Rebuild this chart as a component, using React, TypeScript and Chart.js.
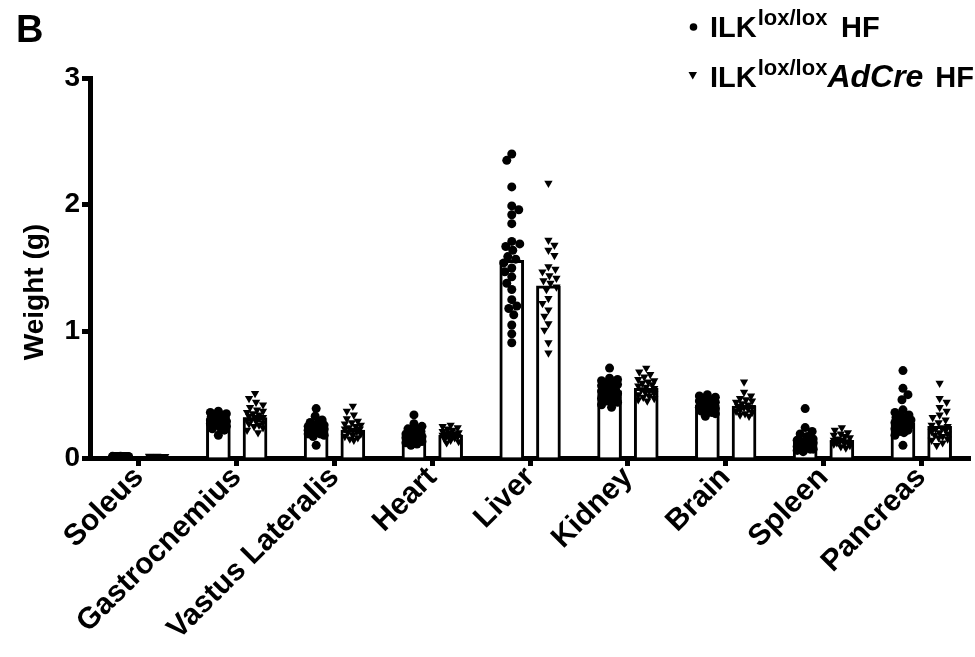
import React, { useEffect, useRef } from "react";
import { Chart, registerables } from "chart.js";

Chart.register(...registerables);

// Tissue categories on the x axis
const organs = [
  "Soleus",
  "Gastrocnemius",
  "Vastus Lateralis",
  "Heart",
  "Liver",
  "Kidney",
  "Brain",
  "Spleen",
  "Pancreas",
];

const yTicks = [0, 1, 2, 3];

// Group means (bar heights), grams
const meanHF = [0.01, 0.3, 0.23, 0.18, 1.56, 0.53, 0.42, 0.13, 0.28];
const meanCre = [0.012, 0.32, 0.22, 0.18, 1.36, 0.55, 0.41, 0.14, 0.25];

// Individual animals, ILK lox/lox HF
const soleusHF = [0.012, 0.01, 0.011, 0.009, 0.008, 0.013, 0.01, 0.011, 0.009, 0.012, 0.01, 0.008, 0.011, 0.009, 0.01, 0.012, 0.011, 0.01, 0.009, 0.013, 0.01, 0.011];
const gastrocHF = [0.37, 0.36, 0.35, 0.34, 0.34, 0.33, 0.33, 0.32, 0.32, 0.31, 0.31, 0.3, 0.3, 0.29, 0.29, 0.28, 0.28, 0.27, 0.27, 0.26, 0.25, 0.24, 0.23, 0.22, 0.18];
const vastusHF = [0.39, 0.33, 0.3, 0.28, 0.27, 0.26, 0.25, 0.25, 0.24, 0.24, 0.23, 0.23, 0.22, 0.22, 0.21, 0.21, 0.2, 0.2, 0.19, 0.19, 0.18, 0.17, 0.1];
const heartHF = [0.34, 0.27, 0.25, 0.23, 0.22, 0.21, 0.2, 0.19, 0.19, 0.18, 0.18, 0.17, 0.17, 0.16, 0.16, 0.15, 0.15, 0.14, 0.13, 0.12, 0.11, 0.1];
const liverHF = [2.4, 2.35, 2.14, 1.99, 1.96, 1.92, 1.85, 1.71, 1.69, 1.67, 1.64, 1.59, 1.57, 1.54, 1.5, 1.47, 1.43, 1.38, 1.33, 1.25, 1.2, 1.18, 1.13, 1.05, 0.98, 0.91];
const kidneyHF = [0.71, 0.63, 0.62, 0.61, 0.6, 0.59, 0.58, 0.57, 0.56, 0.55, 0.54, 0.53, 0.52, 0.51, 0.5, 0.5, 0.49, 0.48, 0.47, 0.46, 0.45, 0.44, 0.42, 0.4];
const brainHF = [0.5, 0.49, 0.48, 0.47, 0.46, 0.45, 0.44, 0.43, 0.43, 0.42, 0.42, 0.41, 0.41, 0.4, 0.4, 0.39, 0.38, 0.37, 0.36, 0.35, 0.33];
const spleenHF = [0.39, 0.24, 0.21, 0.19, 0.17, 0.15, 0.14, 0.13, 0.12, 0.12, 0.11, 0.11, 0.1, 0.1, 0.09, 0.09, 0.08, 0.08, 0.07, 0.07, 0.06, 0.05];
const pancreasHF = [0.69, 0.55, 0.5, 0.46, 0.38, 0.36, 0.34, 0.33, 0.32, 0.31, 0.3, 0.29, 0.28, 0.27, 0.26, 0.25, 0.24, 0.23, 0.22, 0.21, 0.2, 0.18, 0.1];

// Individual animals, ILK lox/lox AdCre HF
const soleusCre = [0.012, 0.013, 0.011, 0.012, 0.014, 0.01, 0.012, 0.013, 0.011, 0.012, 0.014, 0.012, 0.011, 0.013, 0.012, 0.01, 0.013, 0.012, 0.011, 0.012];
const gastrocCre = [0.51, 0.47, 0.44, 0.42, 0.4, 0.38, 0.37, 0.36, 0.35, 0.34, 0.33, 0.32, 0.32, 0.31, 0.3, 0.3, 0.29, 0.28, 0.27, 0.26, 0.25, 0.24, 0.22, 0.2];
const vastusCre = [0.41, 0.37, 0.34, 0.31, 0.29, 0.28, 0.27, 0.26, 0.25, 0.24, 0.23, 0.23, 0.22, 0.21, 0.2, 0.19, 0.18, 0.17, 0.16, 0.15, 0.14];
const heartCre = [0.26, 0.25, 0.24, 0.23, 0.22, 0.21, 0.2, 0.2, 0.19, 0.19, 0.18, 0.18, 0.17, 0.17, 0.16, 0.15, 0.14, 0.13, 0.12];
const liverCre = [2.17, 1.72, 1.68, 1.64, 1.6, 1.51, 1.49, 1.47, 1.44, 1.42, 1.4, 1.38, 1.35, 1.33, 1.26, 1.22, 1.17, 1.12, 1.06, 1.01, 0.91, 0.83];
const kidneyCre = [0.71, 0.68, 0.66, 0.64, 0.62, 0.61, 0.6, 0.59, 0.58, 0.57, 0.56, 0.55, 0.54, 0.53, 0.52, 0.51, 0.5, 0.49, 0.48, 0.47, 0.46, 0.45];
const brainCre = [0.6, 0.52, 0.49, 0.47, 0.46, 0.45, 0.44, 0.43, 0.42, 0.41, 0.4, 0.4, 0.39, 0.38, 0.37, 0.36, 0.35, 0.34, 0.33];
const spleenCre = [0.24, 0.22, 0.2, 0.19, 0.18, 0.17, 0.16, 0.15, 0.14, 0.14, 0.13, 0.13, 0.12, 0.12, 0.11, 0.1, 0.09, 0.08];
const pancreasCre = [0.59, 0.47, 0.44, 0.4, 0.37, 0.34, 0.32, 0.3, 0.28, 0.26, 0.25, 0.24, 0.23, 0.22, 0.21, 0.2, 0.19, 0.18, 0.17, 0.16, 0.15, 0.14, 0.12, 0.1];

const pointsHF = [soleusHF, gastrocHF, vastusHF, heartHF, liverHF, kidneyHF, brainHF, spleenHF, pancreasHF];
const pointsCre = [soleusCre, gastrocCre, vastusCre, heartCre, liverCre, kidneyCre, brainCre, spleenCre, pancreasCre];

const FONT = '"Liberation Sans", Arial, Helvetica, sans-serif';
const BLACK = "#000000";

// Approximate plot scale, used only to spread overlapping dots sideways
const PX_PER_CAT = 97.9;
const PX_PER_G = 126.7;
const SIDE = 0.1875; // centre of each bar relative to its category
const BAR_PX = 24;

// Simple beeswarm: nudge each dot left/right until it clears its neighbours
function swarm(values: number[], diameter: number, maxHalf: number): number[] {
  const order = values.map((_, i) => i).sort((a, b) => values[b] - values[a]);
  const placed: { x: number; y: number }[] = [];
  const out = new Array(values.length).fill(0);
  const minD = diameter * 0.85;
  let flip = 1;
  for (const i of order) {
    const y = values[i] * PX_PER_G;
    let best = 0;
    let bestScore = -Infinity;
    let done = false;
    for (let s = 0; s <= maxHalf && !done; s += 1) {
      const cands = s === 0 ? [0] : [s * flip, -s * flip];
      for (const c of cands) {
        let nearest = Infinity;
        for (const p of placed) nearest = Math.min(nearest, Math.hypot(p.x - c, p.y - y));
        if (nearest >= minD) {
          best = c;
          done = true;
          break;
        }
        if (nearest > bestScore) {
          bestScore = nearest;
          best = c;
        }
      }
    }
    flip = -flip;
    placed.push({ x: best, y });
    out[i] = best;
  }
  return out;
}

function scatterData(groups: number[][], side: number, diameter: number) {
  return groups.flatMap((vals, ci) => {
    const offs = swarm(vals, diameter, 8);
    return vals.map((v, k) => ({ x: ci + side + offs[k] / PX_PER_CAT, y: v }));
  });
}

function barData(means: number[], side: number) {
  return means.map((v, ci) => ({ x: ci + side, y: v }));
}

// Panel letter, rotated axis title and the two-line legend with superscripts
const decorations = {
  id: "decorations",
  afterDraw(chart: any) {
    const ctx = chart.ctx as CanvasRenderingContext2D;
    ctx.save();
    ctx.fillStyle = BLACK;
    ctx.textAlign = "left";
    ctx.textBaseline = "alphabetic";

    ctx.font = `bold 38px ${FONT}`;
    ctx.fillText("B", 16, 42);

    ctx.save();
    ctx.translate(35, 292);
    ctx.rotate(-Math.PI / 2);
    ctx.textAlign = "center";
    ctx.textBaseline = "middle";
    ctx.font = `bold 28px ${FONT}`;
    ctx.fillText("Weight (g)", 0, 0);
    ctx.restore();

    const big = `bold 29px ${FONT}`;
    const sup = `bold 22px ${FONT}`;
    const ital = `italic bold 32px ${FONT}`;

    // legend markers
    ctx.beginPath();
    ctx.arc(693.5, 27, 3.8, 0, Math.PI * 2);
    ctx.fill();
    ctx.beginPath();
    ctx.moveTo(688.5, 72);
    ctx.lineTo(697, 72);
    ctx.lineTo(692.75, 79.5);
    ctx.closePath();
    ctx.fill();

    // line 1
    let x = 710;
    ctx.font = big;
    ctx.fillText("ILK", x, 37);
    x += ctx.measureText("ILK").width + 1;
    ctx.font = sup;
    ctx.fillText("lox/lox", x, 25);
    ctx.font = big;
    ctx.fillText("HF", 841, 37);

    // line 2
    x = 710;
    ctx.font = big;
    ctx.fillText("ILK", x, 87);
    x += ctx.measureText("ILK").width + 1;
    ctx.font = sup;
    ctx.fillText("lox/lox", x, 75);
    x += ctx.measureText("lox/lox").width;
    ctx.font = ital;
    ctx.fillText("AdCre", x, 87);
    ctx.font = big;
    ctx.textAlign = "right";
    ctx.fillText("HF", 974, 87);

    ctx.restore();
  },
};

export default function App() {
  const ref = useRef<HTMLCanvasElement>(null);

  useEffect(() => {
    if (!ref.current) return;
    const yFont = { family: FONT, size: 28, weight: "bold" as const };
    const xFont = { family: FONT, size: 30, weight: "bold" as const };
    const barStyle = {
      type: "bar" as const,
      backgroundColor: "#ffffff",
      borderColor: BLACK,
      borderWidth: 3,
      barThickness: BAR_PX,
      grouped: false,
      xAxisID: "x2",
      order: 2,
    };
    const chart = new Chart(ref.current, {
      type: "bar",
      data: {
        labels: organs,
        datasets: [
          { ...barStyle, label: "ILK lox/lox HF", data: barData(meanHF, -SIDE) } as any,
          { ...barStyle, label: "ILK lox/lox AdCre HF", data: barData(meanCre, SIDE) } as any,
          {
            type: "scatter",
            label: "ILK lox/lox HF points",
            data: scatterData(pointsHF, -SIDE, 9),
            xAxisID: "x2",
            pointStyle: "circle",
            pointRadius: 4.5,
            backgroundColor: BLACK,
            borderColor: BLACK,
            borderWidth: 0,
            order: 1,
          } as any,
          {
            type: "scatter",
            label: "ILK lox/lox AdCre HF points",
            data: scatterData(pointsCre, SIDE, 8.5),
            xAxisID: "x2",
            pointStyle: "triangle",
            rotation: 180,
            pointRadius: 4.8,
            backgroundColor: BLACK,
            borderColor: BLACK,
            borderWidth: 0,
            order: 1,
          } as any,
        ],
      },
      options: {
        responsive: false,
        animation: false,
        devicePixelRatio: 1,
        layout: { padding: { top: 78, right: 4, left: 0, bottom: 0 } },
        plugins: {
          legend: { display: false },
          tooltip: { enabled: false },
        },
        scales: {
          x: {
            type: "category",
            labels: organs,
            offset: true,
            grid: {
              display: true,
              drawOnChartArea: false,
              offset: false,
              tickLength: 8,
              tickWidth: 5,
              tickColor: BLACK,
            },
            border: { display: true, color: BLACK, width: 5 },
            ticks: {
              color: BLACK,
              font: xFont,
              minRotation: 45,
              maxRotation: 45,
              autoSkip: false,
              padding: -6,
            },
            afterFit: (s: any) => {
              s.height = 199;
            },
          },
          x2: {
            type: "linear",
            display: false,
            offset: false,
            grid: { offset: false },
            min: -0.5,
            max: organs.length - 0.5,
          },
          y: {
            type: "linear",
            min: yTicks[0],
            max: yTicks[yTicks.length - 1],
            grid: {
              drawOnChartArea: false,
              tickLength: 8,
              tickWidth: 5,
              tickColor: BLACK,
            },
            border: { display: true, color: BLACK, width: 5 },
            ticks: {
              stepSize: 1,
              color: BLACK,
              font: yFont,
              padding: 2,
            },
            afterFit: (s: any) => {
              s.width = 90;
            },
          },
        },
      } as any,
      plugins: [decorations],
    });
    return () => chart.destroy();
  }, []);

  return (
    <div style={{ position: "absolute", left: 0, top: 0, width: 975, height: 657, background: "#ffffff" }}>
      <canvas ref={ref} width={975} height={657} style={{ display: "block" }} />
    </div>
  );
}
